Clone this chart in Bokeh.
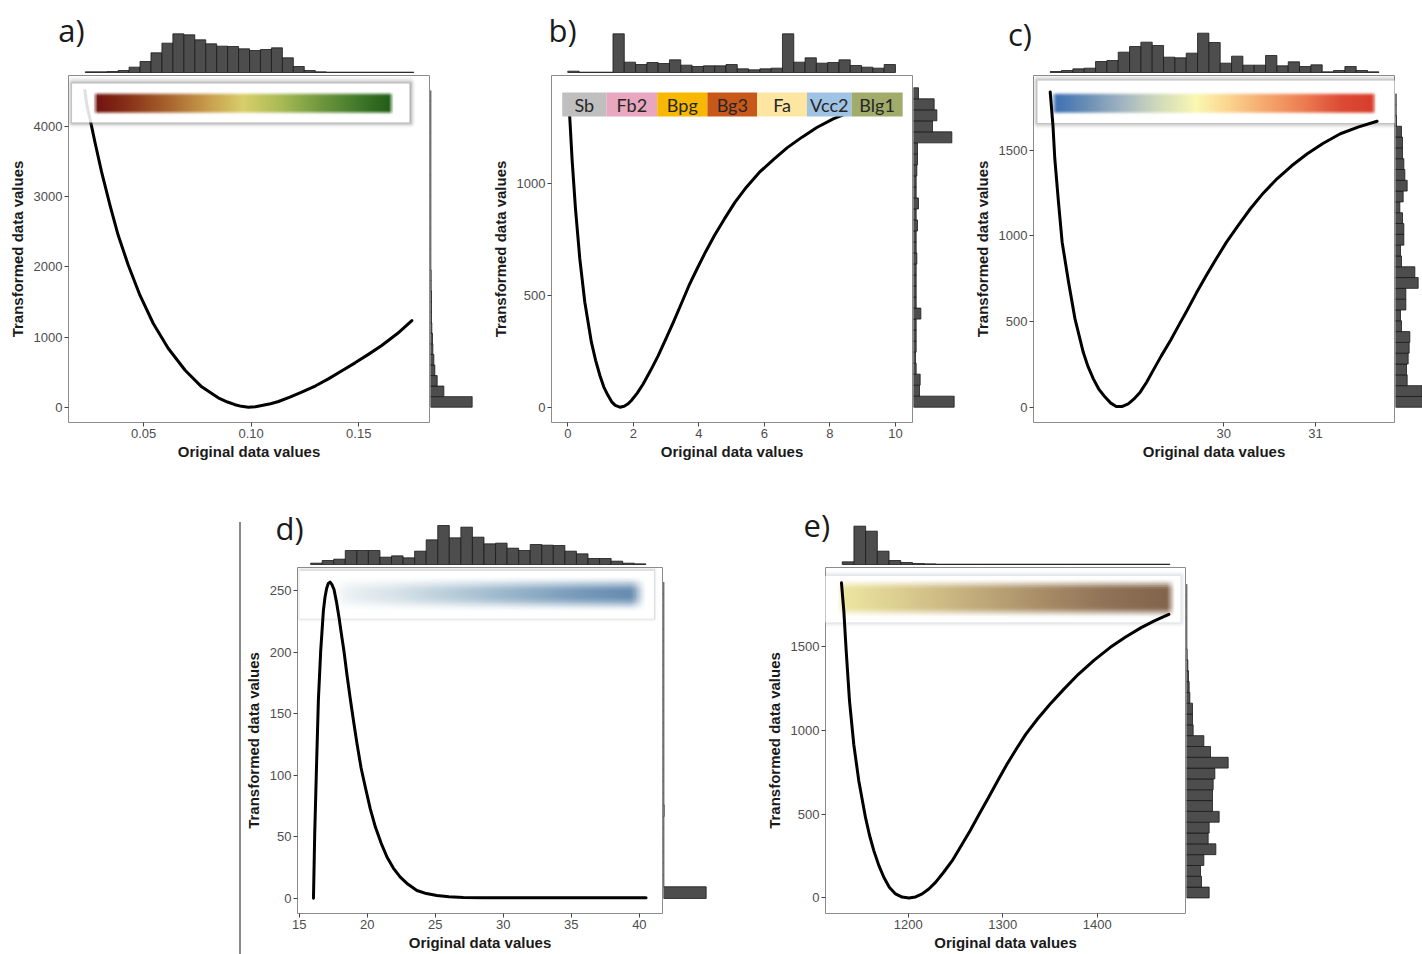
import numpy as np
from bokeh.plotting import figure
from bokeh.layouts import row, column
from bokeh.models import Spacer, Div, FixedTicker, NumeralTickFormatter, Label, Range1d
from bokeh.embed import file_html
from bokeh.resources import INLINE
from bokeh.core.properties import value

# ======================= DATA =======================
# ---- panel a ----
a_curve_x = [0.0227, 0.0238, 0.0251, 0.0274, 0.0305, 0.0344, 0.0382, 0.0429, 0.0483, 0.0545, 0.0615,
             0.0693, 0.0770, 0.0847, 0.0890, 0.0925, 0.0955, 0.0987, 0.1020, 0.1049, 0.1090, 0.1127,
             0.1180, 0.1235, 0.1300, 0.1359, 0.1420, 0.1483, 0.1545, 0.1607, 0.1680, 0.1747]
a_curve_y = [4513, 4275, 4109, 3776, 3349, 2876, 2450, 2023, 1596, 1193, 837, 527, 290, 133, 74, 36,
             12, 0, 7, 24, 50, 81, 143, 214, 305, 404, 515, 632, 753, 879, 1050, 1235]
a_top_range = (0.0229, 0.1756)
a_top_counts = [2, 2, 3, 6, 16, 33, 59, 88, 116, 113, 98, 86, 79, 78, 71, 66, 69, 74, 44, 18, 6, 2,
                1, 1, 1, 1, 1, 1, 1, 1]
a_right_range = (0, 4513)
a_right_counts = [125, 40, 20, 13, 10, 7, 6, 4, 3, 3, 3, 2, 2, 1, 1, 1, 1, 1, 1, 1, 1, 1, 1, 1, 1,
                  1, 1, 1, 1, 1]

# ---- panel b ----
b_curve_x = [0.0, 0.06, 0.13, 0.235, 0.367, 0.52, 0.72, 0.85, 0.98, 1.10, 1.23, 1.34, 1.45, 1.59,
             1.72, 1.83, 1.94, 2.12, 2.30, 2.53, 2.76, 2.99, 3.22, 3.46, 3.70, 3.95, 4.20, 4.48, 4.78,
             5.10, 5.45, 5.85, 6.30, 6.70, 7.15, 7.60, 8.10, 8.60]
b_curve_y = [1400, 1298, 1112, 888, 664, 470, 291, 210, 142, 90, 52, 24, 8, 0, 4, 14, 30, 63, 104, 165,
             231, 305, 380, 462, 545, 621, 694, 770, 843, 917, 985, 1052, 1112, 1162, 1209, 1252, 1291,
             1320]
b_top_range = (0.0, 10.0)
b_top_counts = [4, 1, 1, 1, 116, 31, 24, 30, 27, 38, 22, 18, 20, 20, 24, 11, 8, 11, 13, 116, 31, 44,
                28, 30, 38, 21, 16, 13, 24]
b_right_range = (0, 1430)
b_right_counts = [122, 18, 20, 8, 6, 8, 8, 8, 22, 8, 8, 8, 8, 10, 8, 8, 12, 8, 15, 8, 8, 10, 12, 12,
                  115, 57, 70, 62, 15]
b_classes = ["Sb", "Fb2", "Bpg", "Bg3", "Fa", "Vcc2", "Blg1"]
b_class_bounds = [-0.17, 1.18, 2.73, 4.26, 5.78, 7.30, 8.66, 10.22]

# ---- panel c ----
c_curve_x = [28.11, 28.14, 28.16, 28.20, 28.24, 28.31, 28.38, 28.47, 28.52, 28.58, 28.64, 28.71, 28.77,
             28.83, 28.89, 28.96, 29.02, 29.09, 29.16, 29.23, 29.32, 29.42, 29.51, 29.60, 29.70, 29.81,
             29.92, 30.03, 30.16, 30.29, 30.43, 30.58, 30.74, 30.91, 31.08, 31.27, 31.47, 31.67]
c_curve_y = [1840, 1645, 1451, 1197, 964, 730, 516, 321, 240, 166, 105, 58, 24, 4, 4, 20, 47, 88, 146,
             214, 300, 390, 478, 565, 665, 769, 868, 964, 1063, 1159, 1250, 1334, 1410, 1480, 1540, 1597,
             1637, 1670]
c_top_range = (28.11, 31.69)
c_top_counts = [3, 6, 11, 13, 33, 36, 61, 78, 91, 81, 46, 44, 58, 118, 90, 28, 49, 22, 22, 51, 20, 32,
                18, 23, 2, 6, 18, 6, 2]
c_right_range = (0, 1830)
c_right_counts = [85, 80, 35, 33, 38, 41, 43, 18, 15, 31, 31, 68, 58, 18, 15, 25, 25, 21, 13, 23, 35,
                  28, 25, 21, 21, 18, 3, 2, 2]

# ---- panel d ----
d_curve_x = [16.05, 16.14, 16.27, 16.41, 16.58, 16.78, 16.90, 17.02, 17.14, 17.27, 17.41, 17.56, 17.74,
             17.93, 18.10, 18.29, 18.52, 18.77, 19.01, 19.26, 19.55, 19.87, 20.22, 20.60, 21.02, 21.46,
             21.93, 22.43, 23.00, 23.65, 24.35, 25.12, 26.00, 27.07, 28.50, 30.97, 35.00, 40.49]
d_curve_y = [0.2, 52, 106, 161, 201, 234, 245, 252, 256, 257, 255, 251, 241, 228, 215, 201, 181, 161,
             143, 125, 106, 90, 73, 58, 45, 33.5, 24.5, 17.3, 11.5, 6.5, 4.0, 2.4, 1.5, 0.8, 0.6, 0.5,
             0.5, 0.5]
d_top_range = (15.98, 40.48)
d_top_counts = [4, 12, 16, 42, 42, 42, 22, 26, 20, 40, 74, 117, 80, 112, 82, 62, 64, 49, 42, 60, 58,
                57, 40, 32, 18, 18, 10, 4, 2]
d_right_range = (0, 257)
d_right_counts = [128, 1, 1, 1, 1, 1, 1, 2, 1, 1, 1, 1, 1, 1, 1, 1, 1, 1, 1, 1, 1, 1, 1, 1, 1, 1, 1]

# ---- panel e ----
e_curve_x = [1129.4, 1131.9, 1134.4, 1137.9, 1142.4, 1147.7, 1154.8, 1159.0, 1163.6, 1168.7, 1174.2,
             1180.0, 1186.6, 1193.5, 1200.7, 1207.8, 1214.8, 1221.8, 1228.9, 1237.5, 1246.6, 1255.9,
             1265.5, 1275.2, 1285.0, 1294.7, 1304.5, 1314.4, 1324.5, 1337.0, 1350.0, 1365.0, 1380.0,
             1396.5, 1413.5, 1430.0, 1446.5, 1461.0, 1475.8]
e_curve_y = [1878, 1710, 1472, 1175, 916, 699, 480, 375, 282, 197, 123, 64, 24, 5, 0, 6, 24, 53, 93,
             153, 222, 309, 401, 500, 599, 699, 797, 888, 976, 1068, 1154, 1246, 1333, 1416, 1492,
             1555, 1611, 1653, 1690]
e_top_range = (1130.2, 1476.9)
e_top_counts = [8, 115, 100, 40, 12, 6, 3, 2, 1, 1, 1, 1, 1, 1, 1, 1, 1, 1, 1, 1, 1, 1, 1, 1, 1, 1,
                1, 1]
e_right_range = (0, 1870)
e_right_counts = [68, 45, 42, 52, 88, 65, 68, 98, 78, 78, 80, 85, 125, 72, 52, 20, 18, 18, 10, 8, 6,
                  4, 2, 1, 1, 1, 1, 1, 1]

# tick labels
a_xticks = [0.05, 0.10, 0.15]
a_yticks = [0, 1000, 2000, 3000, 4000]
b_xticks = [0, 2, 4, 6, 8, 10]
b_yticks = [0, 500, 1000]
c_xticks = [30, 31]
c_yticks = [0, 500, 1000, 1500]
d_xticks = [15, 20, 25, 30, 35, 40]
d_yticks = [0, 50, 100, 150, 200, 250]
e_xticks = [1200, 1300, 1400]
e_yticks = [0, 500, 1000, 1500]

# ======================= STYLE =======================
BAR_FILL = "#4d4d4d"
BAR_LINE = "#1a1a1a"
FRAME = "#8c8c8c"
grad_a = ["#6e0f0f", "#8a3419", "#a8642e", "#c79a4c", "#d9cf6b", "#a9bb55", "#73993f", "#427b2c", "#1f5a16"]
grad_c = ["#3a6db4", "#6b8fb6", "#a3b6c3", "#d3dcba", "#fbf8b2", "#fbd18c", "#f5a56c", "#ec7c52", "#dd4b35", "#d63c2a"]
grad_d = ["#f3f6f7", "#d6e2e8", "#b2c8d6", "#8eadc5", "#6d93b5", "#5a82a8"]
grad_e = ["#eee9a2", "#dbcc8f", "#c3ad7c", "#a98e68", "#8f7257", "#80624a"]
class_colors = ["#bfbfbf", "#e8a6bf", "#f9b800", "#c8581a", "#fde5a2", "#9fc3e4", "#a1ac6b"]
HIST_PER_PX = 3.0   # count units per pixel in the marginal histograms


def hex_rgb(h):
    h = h.lstrip("#")
    return [int(h[i:i + 2], 16) for i in (0, 2, 4)]


def smooth(a):
    a = np.clip(a, 0, 1)
    return a * a * (3 - 2 * a)


def rgba_image(rgb, alpha):
    ny, nx = alpha.shape
    img = np.zeros((ny, nx), dtype=np.uint32)
    v = img.view(dtype=np.uint8).reshape((ny, nx, 4))
    for k in range(3):
        v[:, :, k] = np.broadcast_to(rgb[k], (ny, nx)).astype(np.uint8)
    v[:, :, 3] = np.clip(alpha * 255, 0, 255).astype(np.uint8)
    return img


def add_gradient(p, stops, x0, x1, y0, y1, ex, ey, amax=1.0, nx=400, ny=60):
    cols = np.array([hex_rgb(c) for c in stops], dtype=float)
    t = np.linspace(0, 1, nx)
    pos = np.linspace(0, 1, len(stops))
    rgb = [np.interp(t, pos, cols[:, k]) for k in range(3)]
    ax = smooth(np.minimum(t, 1 - t) / ex)
    ty = np.linspace(0, 1, ny)
    ay = smooth(np.minimum(ty, 1 - ty) / ey)
    alpha = amax * np.outer(ay, ax)
    p.image_rgba(image=[rgba_image(rgb, alpha)], x=x0, y=y0, dw=x1 - x0, dh=y1 - y0)


def add_shadow_box(p, x0, x1, y0, y1, padx, pady, amax=0.45, color="#5a5a5a", box_alpha=1.0,
                   nx=300, ny=60):
    X0, X1, Y0, Y1 = x0 - padx, x1 + padx, y0 - pady, y1 + pady
    xs = np.linspace(X0, X1, nx)
    ys = np.linspace(Y0, Y1, ny)
    dx = np.maximum(np.maximum(x0 - xs, xs - x1), 0) / padx
    dy = np.maximum(np.maximum(y0 - ys, ys - y1), 0) / pady
    d = np.sqrt(dx[None, :] ** 2 + dy[:, None] ** 2)
    alpha = amax * (1 - np.clip(d, 0, 1)) ** 2
    inside = (d == 0)
    alpha[inside] = 0 if box_alpha < 1 else amax
    c = hex_rgb(color)
    rgb = [np.full(nx, c[k], dtype=float) for k in range(3)]
    p.image_rgba(image=[rgba_image(rgb, alpha)], x=X0, y=Y0, dw=X1 - X0, dh=Y1 - Y0)
    p.quad(left=[x0], right=[x1], bottom=[y0], top=[y1], fill_color="white",
           fill_alpha=box_alpha, line_color=None)


def main_fig(w, h, bl, br, bt, bb, xr, yr, xticks, yticks, xfmt=None):
    p = figure(width=w, height=h, x_range=Range1d(*xr), y_range=Range1d(*yr),
               output_backend="svg", toolbar_location=None, tools="",
               min_border_left=bl, min_border_right=br, min_border_top=bt, min_border_bottom=bb)
    p.grid.visible = False
    p.outline_line_color = FRAME
    p.outline_line_width = 1
    p.background_fill_color = "white"
    p.border_fill_color = "white"
    for ax in (p.xaxis[0], p.yaxis[0]):
        ax.axis_line_color = None
        ax.major_tick_line_color = "#444444"
        ax.major_tick_in = 0
        ax.major_tick_out = 4
        ax.minor_tick_line_color = None
        ax.major_label_text_font = "Liberation Sans"
        ax.major_label_text_font_size = "13px"
        ax.major_label_text_color = "#4d4d4d"
        ax.major_label_standoff = 2
        ax.axis_label_text_font = "Liberation Sans"
        ax.axis_label_text_font_style = "bold"
        ax.axis_label_text_font_size = "15px"
        ax.axis_label_text_color = "#1a1a1a"
    p.xaxis.axis_label_standoff = 2
    p.yaxis.axis_label_standoff = 5
    p.xaxis.axis_label = "Original data values"
    p.yaxis.axis_label = "Transformed data values"
    p.xaxis.ticker = FixedTicker(ticks=xticks)
    p.yaxis.ticker = FixedTicker(ticks=yticks)
    if xfmt:
        p.xaxis.formatter = NumeralTickFormatter(format=xfmt)
    return p


def bare_fig(w, h, xr, yr, bl=0, br=0, bt=0, bb=0):
    p = figure(width=w, height=h, x_range=Range1d(*xr), y_range=Range1d(*yr),
               x_axis_location=None, y_axis_location=None,
               output_backend="svg", toolbar_location=None, tools="",
               min_border_left=bl, min_border_right=br, min_border_top=bt, min_border_bottom=bb)
    p.grid.visible = False
    p.outline_line_color = None
    p.background_fill_color = "white"
    p.border_fill_color = "white"
    return p


def top_fig(W, H, bl, fw, main_xr):
    # whole canvas is the frame; x scale identical to the main panel below it
    s = (main_xr[1] - main_xr[0]) / fw
    xr = (main_xr[0] - bl * s, main_xr[0] + (W - bl) * s)
    yr = (-1 * HIST_PER_PX, (H - 1) * HIST_PER_PX)
    return bare_fig(W, H, xr, yr)


def top_hist(p, rng, counts):
    e = np.linspace(rng[0], rng[1], len(counts) + 1)
    p.quad(left=e[:-1], right=e[1:], bottom=0, top=counts,
           fill_color=BAR_FILL, line_color=BAR_LINE, line_width=0.8)


def right_hist(p, rng, counts):
    e = np.linspace(rng[0], rng[1], len(counts) + 1)
    p.quad(left=0, right=counts, bottom=e[:-1], top=e[1:],
           fill_color=BAR_FILL, line_color=BAR_LINE, line_width=0.8)


def curve(p, xs, ys):
    p.line(xs, ys, line_color="black", line_width=3, line_join="round", line_cap="round")


def letter(p, x, y, t):
    p.add_layout(Label(x=x, y=y, text=t, text_font="Open Sans", text_font_size="31px",
                       text_color="#1a1a1a", text_baseline="middle", text_align="left"))


# ======================= PANEL A =======================
a_xr = (0.0151, 0.1829)
a_yr = (-218, 4727)
topA = top_fig(480, 73, 68, 361, a_xr)
top_hist(topA, a_top_range, a_top_counts)
letter(topA, 0.0103, 129, "a)")
mainA = main_fig(430, 404, 68, 1, 2, 55, a_xr, a_yr, a_xticks, a_yticks, xfmt="0.00")
curve(mainA, a_curve_x, a_curve_y)
add_shadow_box(mainA, 0.0167, 0.1736, 4057, 4613, 0.0035, 110, amax=0.5, box_alpha=0.88)
add_gradient(mainA, grad_a, 0.0260, 0.1663, 4157, 4503, 0.02, 0.22)
rightA = bare_fig(50, 404, (0, 132), a_yr, 0, 6, 2, 55)
right_hist(rightA, a_right_range, a_right_counts)
grpA = column(topA, row(mainA, rightA))

# ======================= PANEL B =======================
b_xr = (-0.497, 10.52)
b_yr = (-68.5, 1485)
topB = top_fig(475, 73, 71, 361, b_xr)
top_hist(topB, b_top_range, b_top_counts)
letter(topB, -0.59, 129, "b)")
mainB = main_fig(433, 404, 71, 1, 2, 55, b_xr, b_yr, b_xticks, b_yticks)
curve(mainB, b_curve_x, b_curve_y)
mainB.quad(left=b_class_bounds[:-1], right=b_class_bounds[1:], bottom=1301, top=1409,
           fill_color=class_colors, line_color=None)
mainB.text(x=[(b_class_bounds[i] + b_class_bounds[i + 1]) / 2 for i in range(len(b_classes))],
           y=[1355] * len(b_classes), text=b_classes, text_font=value("Lato"),
           text_font_size="18px", text_color="#262626", text_align="center", text_baseline="middle")
rightB = bare_fig(42, 404, (0, 126), b_yr, 0, 0, 2, 55)
right_hist(rightB, b_right_range, b_right_counts)
grpB = column(topB, row(mainB, rightB))

# ======================= PANEL C =======================
c_xr = (27.928, 31.86)
c_yr = (-89, 1937)
topC = top_fig(467, 73, 78, 361, c_xr)
top_hist(topC, c_top_range, c_top_counts)
letter(topC, 27.65, 117, "c)")
mainC = main_fig(440, 404, 78, 1, 2, 55, c_xr, c_yr, c_xticks, c_yticks)
add_shadow_box(mainC, 27.97, 31.89, 1659, 1908, 0.08, 45, amax=0.5)
add_gradient(mainC, grad_c, 28.11, 31.67, 1703, 1845, 0.02, 0.22)
curve(mainC, c_curve_x, c_curve_y)
rightC = bare_fig(27, 404, (0, 81), c_yr, 0, 0, 2, 55)
right_hist(rightC, c_right_range, c_right_counts)
grpC = column(topC, row(mainC, rightC))

# ======================= PANEL D =======================
d_xr = (14.876, 41.70)
d_yr = (-12.2, 268.9)
topD = top_fig(509, 88, 54, 367, d_xr)
top_hist(topD, d_top_range, d_top_counts)
letter(topD, 13.41, 111, "d)")
mainD = main_fig(422, 389, 54, 1, 2, 41, d_xr, d_yr, d_xticks, d_yticks)
add_shadow_box(mainD, 15.02, 41.07, 227.3, 266.3, 0.3, 4.0, amax=0.25)
add_gradient(mainD, grad_d, 17.19, 40.60, 232.0, 262.0, 0.06, 0.45, amax=0.95)
curve(mainD, d_curve_x, d_curve_y)
rightD = bare_fig(87, 389, (0, 132), d_yr, 0, 43, 2, 41)
right_hist(rightD, d_right_range, d_right_counts)
grpD = column(topD, row(mainD, rightD))

# ======================= PANEL E =======================
e_xr = (1112.5, 1493.4)
e_yr = (-92.8, 1969.5)
topE = top_fig(672, 88, 75, 360, e_xr)
top_hist(topE, e_top_range, e_top_counts)
letter(topE, 1089.2, 120, "e)")
mainE = main_fig(436, 389, 75, 1, 2, 41, e_xr, e_yr, e_xticks, e_yticks)
add_shadow_box(mainE, 1107.2, 1488.2, 1642, 1920, 6.0, 38, amax=0.35, color="#7f8aa0")
add_gradient(mainE, grad_e, 1123.1, 1483.9, 1664, 1902, 0.03, 0.3)
curve(mainE, e_curve_x, e_curve_y)
rightE = bare_fig(236, 389, (0, 132), e_yr, 0, 192, 2, 41)
right_hist(rightE, e_right_range, e_right_counts)
grpE = column(topE, row(mainE, rightE))

# ======================= LAYOUT =======================
line_col = column(Spacer(width=2, height=45, margin=0),
                  Div(width=2, height=432, margin=0, styles={"background-color": "#8a8a8a"}),
                  margin=0)
top_row = row(grpA, grpB, grpC)
bottom_row = row(Spacer(width=239, height=477, margin=0), line_col, grpD, grpE)
layout = column(top_row, bottom_row)

open("out.html", "w").write(file_html(layout, INLINE))
